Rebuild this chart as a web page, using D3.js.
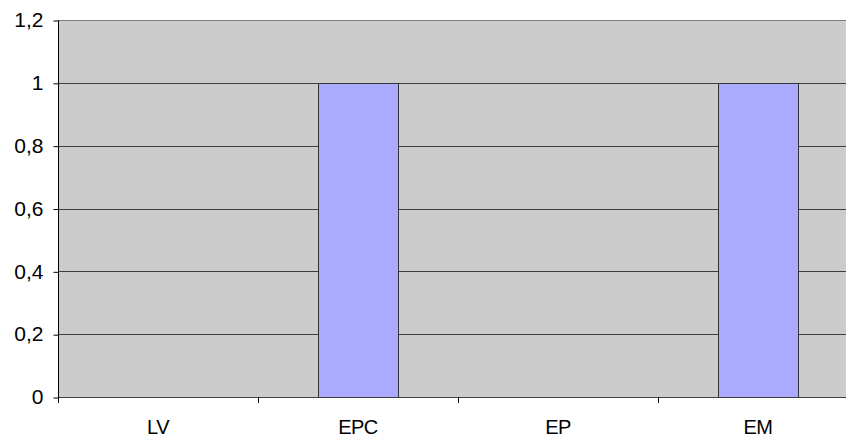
<!DOCTYPE html>
<html>
<head>
<meta charset="utf-8">
<script src="https://cdn.jsdelivr.net/npm/d3@7"></script>
<style>
  html, body { margin: 0; padding: 0; background: #ffffff; }
  svg { display: block; }
  text { font-family: "Liberation Sans", Arial, sans-serif; fill: #000; }
</style>
</head>
<body>
<svg id="chart" width="846" height="439"></svg>
<script>
// Categories and values
const categories = ["LV", "EPC", "EP", "EM"];
const values = [0, 1, 0, 1];
const yTicks = [0, 0.2, 0.4, 0.6, 0.8, 1, 1.2];

const svg = d3.select("#chart");
const margin = { left: 58, top: 20, right: -12, bottom: 42 };
const W = 846, H = 439;
const x0 = margin.left, x1 = W - margin.right;
const y0 = H - margin.bottom, y1 = margin.top;

const x = d3.scaleBand().domain(categories).range([x0, x1]).paddingInner(0).paddingOuter(0);
const y = d3.scaleLinear().domain([0, 1.2]).range([y0, y1]);

const fmt = d => d3.format("")(d).replace(".", ",");

// plot background
svg.append("rect")
  .attr("x", x0).attr("y", y1)
  .attr("width", x1 - x0).attr("height", y0 - y1)
  .attr("fill", "#cccccc");

// horizontal gridlines
svg.append("g").selectAll("line").data(yTicks.filter(d => d > 0)).join("line")
  .attr("x1", x0).attr("x2", x1)
  .attr("y1", d => Math.round(y(d)) + 0.5).attr("y2", d => Math.round(y(d)) + 0.5)
  .attr("stroke", d => d === 1.2 ? "#808080" : "#404040")
  .attr("stroke-width", 1);

// bars
const barW = x.bandwidth() * 0.4;
svg.append("g").selectAll("rect").data(values.map((v, i) => ({ c: categories[i], v })).filter(d => d.v > 0)).join("rect")
  .attr("x", d => Math.round(x(d.c) + (x.bandwidth() - barW) / 2) + 0.5)
  .attr("y", d => Math.round(y(d.v)) + 0.5)
  .attr("width", barW)
  .attr("height", d => Math.round(y(0)) - Math.round(y(d.v)))
  .attr("fill", "#aaaaff")
  .attr("stroke", "#333333")
  .attr("stroke-width", 1);

// y axis
const yAxis = d3.axisLeft(y).tickValues(yTicks).tickSize(5).tickPadding(10).tickFormat(fmt);
const gy = svg.append("g").attr("transform", `translate(${x0 + 0.5},0.5)`).call(yAxis);
gy.select(".domain").attr("stroke", "#000").attr("d", `M0,${y1}V${y0}`);
gy.selectAll(".tick line").attr("stroke", "#000");
gy.selectAll(".tick text").attr("font-size", 21).attr("dy", "0.3em");

// x axis
const xAxis = d3.axisBottom(x).tickSize(0).tickPadding(22);
const gx = svg.append("g").attr("transform", `translate(0,${Math.round(y0) + 0.5})`).call(xAxis);
gx.select(".domain").attr("stroke", "#404040").attr("d", `M${x0},0H${x1}`);
gx.selectAll(".tick text").attr("font-size", 20).attr("letter-spacing", "-0.6px");

// category separators below the axis
svg.append("g").selectAll("line").data(categories.slice(1)).join("line")
  .attr("x1", d => Math.round(x(d)) + 0.5).attr("x2", d => Math.round(x(d)) + 0.5)
  .attr("y1", Math.round(y0)).attr("y2", Math.round(y0) + 6)
  .attr("stroke", "#000");
svg.append("line")
  .attr("x1", x0 + 0.5).attr("x2", x0 + 0.5)
  .attr("y1", Math.round(y0)).attr("y2", Math.round(y0) + 6)
  .attr("stroke", "#000");
</script>
</body>
</html>
